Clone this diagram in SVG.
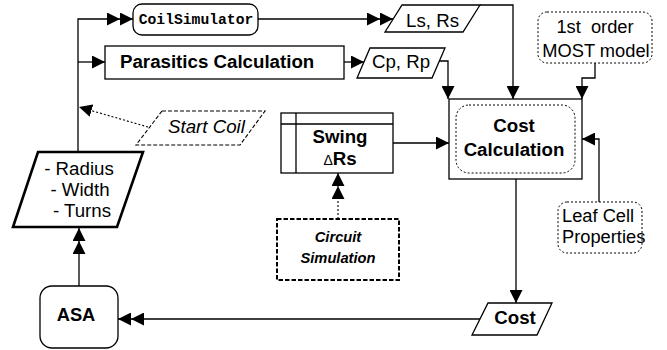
<svg xmlns="http://www.w3.org/2000/svg" width="667" height="350" viewBox="0 0 667 350">
<style>
  .box{fill:#fff;stroke:#000;stroke-width:1.3}
  .dot{fill:#fff;stroke:#000;stroke-width:1;stroke-dasharray:2,2}
  .ln{fill:none;stroke:#000;stroke-width:1.3}
  .dl{fill:none;stroke:#000;stroke-width:1.1;stroke-dasharray:2,2}
  text{font-family:"Liberation Sans",Arial,sans-serif;font-size:18.7px;fill:#000}
  .b{font-weight:bold}
  .c{text-anchor:middle}
</style>
<defs>
  <marker id="a1" markerUnits="userSpaceOnUse" markerWidth="13" markerHeight="13" refX="13" refY="6.5" orient="auto">
    <path d="M0,0 L13,6.5 L0,13 z" fill="#000"/>
  </marker>
  <marker id="a2" markerUnits="userSpaceOnUse" markerWidth="26" markerHeight="13" refX="26" refY="6.5" orient="auto">
    <path d="M0,0 L13,6.5 L0,13 z M13,0 L26,6.5 L13,13 z" fill="#000"/>
  </marker>
</defs>

<g id="connectors">
  <path class="ln" d="M78,152 V19 H133" marker-end="url(#a2)"/>
  <path class="ln" d="M78,62 H105" marker-end="url(#a1)"/>
  <path class="ln" d="M258,19 H393" marker-end="url(#a2)"/>
  <path class="ln" d="M344,62 H364" marker-end="url(#a1)"/>
  <path class="ln" d="M480,5 H513 V99" marker-end="url(#a1)"/>
  <path class="ln" d="M439,61 H448 V99" marker-end="url(#a1)"/>
  <path class="ln" d="M595,63 V78 H582 V99" marker-end="url(#a1)"/>
  <path class="ln" d="M393,143 H449" marker-end="url(#a1)"/>
  <path class="ln" d="M599,202 V139 H582" marker-end="url(#a1)"/>
  <path class="ln" d="M516,179 V303" marker-end="url(#a1)"/>
  <path class="ln" d="M480,319 H118" marker-end="url(#a2)"/>
  <path class="ln" d="M79,286 V228" marker-end="url(#a2)"/>
  <path class="dl" d="M338,219 V173" marker-end="url(#a2)"/>
  <path class="dl" d="M148,127 L79,107" marker-end="url(#a1)"/>
</g>

<g id="coilsim">
  <rect class="box" x="133" y="4" width="125" height="31" rx="9"/>
  <text x="196" y="23.5" class="c" style="font-family:'Liberation Mono','Courier New',monospace;font-weight:bold;font-size:14.7px">CoilSimulator</text>
</g>

<g id="parasitics">
  <rect class="box" x="105" y="46" width="239" height="33"/>
  <text x="120" y="68" class="b">Parasitics Calculation</text>
</g>

<g id="lsrs">
  <path class="box" d="M402,5 H480 L463,32 H385 z"/>
  <text x="432.5" y="26.5" class="c">Ls, Rs</text>
</g>

<g id="cprp">
  <path class="box" d="M370,48 H445 L432,78 H357 z"/>
  <text x="401" y="68.3" class="c">Cp, Rp</text>
</g>

<g id="most">
  <rect class="dot" x="538" y="12" width="114" height="51" rx="9"/>
  <text x="595" y="33.3" class="c" style="font-size:18.3px" xml:space="preserve">1st  order</text>
  <text x="596" y="56.7" class="c" style="font-size:18.3px">MOST model</text>
</g>

<g id="costcalc">
  <rect class="box" x="449" y="99" width="133" height="80"/>
  <rect class="dot" x="456" y="105" width="119" height="68" rx="13"/>
  <text x="514" y="131.7" class="c b">Cost</text>
  <text x="514" y="156" class="c b">Calculation</text>
</g>

<g id="swing">
  <rect class="box" x="281" y="113" width="112" height="60"/>
  <path class="ln" d="M281,124 H393 M296,113 V173"/>
  <text x="340" y="142.7" class="c b">Swing</text>
  <text x="340" y="165" class="c b"><tspan style="font-size:14px;font-weight:normal">Δ</tspan>Rs</text>
</g>

<g id="circuit">
  <rect x="277" y="219" width="122" height="61" fill="#fff" stroke="#000" stroke-width="2" stroke-dasharray="4.5,2"/>
  <text x="338" y="241.7" class="c b" style="font-style:italic;font-size:14.7px">Circuit</text>
  <text x="338" y="263.3" class="c b" style="font-style:italic;font-size:14.7px">Simulation</text>
</g>

<g id="leafcell">
  <rect class="dot" x="558" y="202" width="84" height="51" rx="9"/>
  <text x="562" y="221.7" style="font-size:18.3px">Leaf Cell</text>
  <text x="562" y="243.3" style="font-size:18.3px">Properties</text>
</g>

<g id="startcoil">
  <path d="M162,111 H265 L240,145 H136 z" fill="#fff" stroke="#000" stroke-width="1.1" stroke-dasharray="4,2"/>
  <text x="168" y="133.3" style="font-style:italic">Start Coil</text>
</g>

<g id="params">
  <path d="M38,152 H143 L117,227 H13 z" fill="#fff" stroke="#000" stroke-width="2.6"/>
  <text x="79" y="175" class="c">- Radius</text>
  <text x="80" y="196" class="c">- Width</text>
  <text x="82" y="217.3" class="c">- Turns</text>
</g>

<g id="asa">
  <rect class="box" x="40" y="286" width="78" height="62" rx="12"/>
  <text x="76" y="320.7" class="c b" style="font-size:18.3px">ASA</text>
</g>

<g id="cost">
  <path class="box" d="M488,303 H552 L537,335 H472 z"/>
  <text x="515" y="324" class="c b">Cost</text>
</g>
</svg>
